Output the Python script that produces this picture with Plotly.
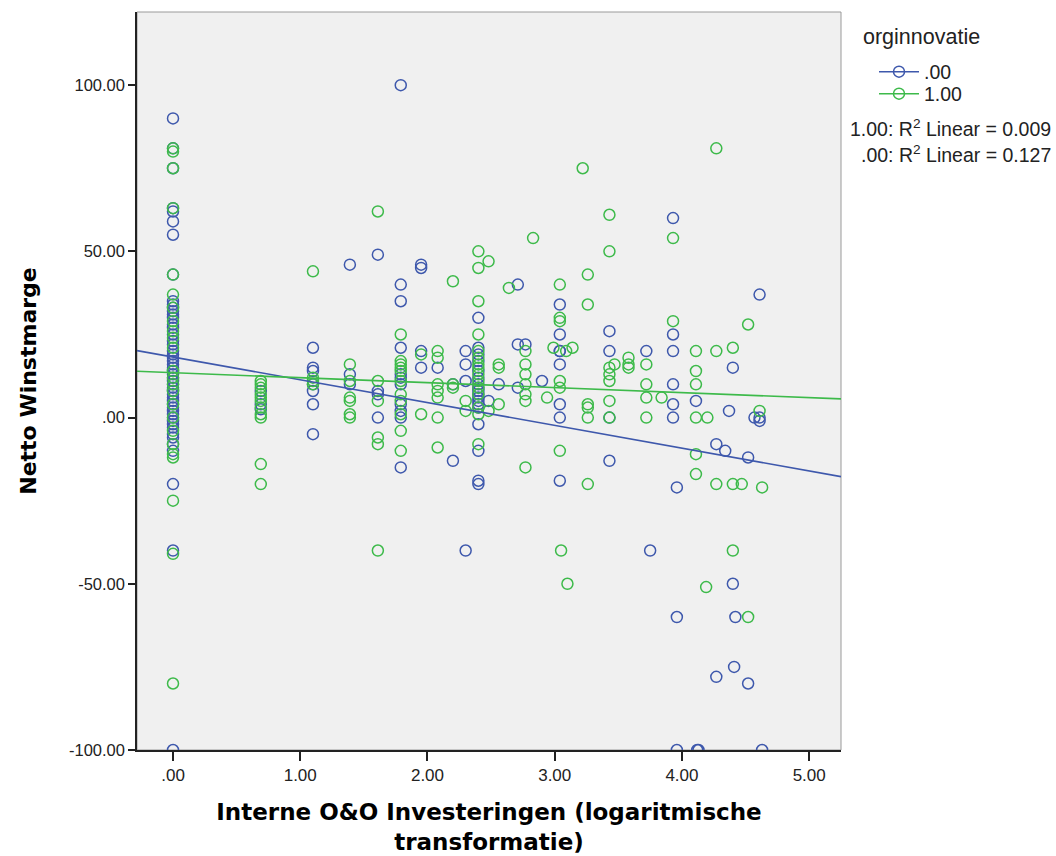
import plotly.graph_objects as go

# ---------------- data ----------------
# group ".00" (blue): (x = log investments, y = net profit margin)
blue_x = ([0.0] * 50 + [0.69] * 3 + [1.10] * 7 + [1.39] * 3 + [1.61] * 4 + [1.79] * 11 + [1.95] * 4 +
          [2.08] + [2.20] * 2 + [2.30] * 4 + [2.40] * 18 + [2.48] + [2.56] + [2.71] * 3 + [2.77] + [2.90] +
          [3.04] * 8 + [3.43] * 4 + [3.72] + [3.75] + [3.93] * 6 + [3.96] * 3 + [4.11] + [4.12] + [4.13] +
          [4.27] * 2 + [4.34] + [4.37] + [4.40] * 2 + [4.41] + [4.42] + [4.52] * 2 + [4.57] + [4.61] * 3 + [4.63])
blue_y = ([90, 81, 75, 63, 62, 59, 55, 43, 35, 34, 33, 32, 31, 30, 28, 27, 25, 23, 22, 20, 19, 18, 17, 16, 15,
           14, 13, 12, 11, 10, 9, 8, 7, 6, 5, 4, 3, 2, 1, 0, -1, -2, -3, -5, -6, -8, -10, -20, -40, -100] +
          [8, 4, 2.5] +
          [21, 15, 14, 10, 8, 4, -5] +
          [46, 13, 10] +
          [49, 8, 7, 0] +
          [100, 40, 35, 21, 13, 12, 10, 4, 2, 0, -15] +
          [46, 45, 20, 15] +
          [15] +
          [10, -13] +
          [20, 16, 11, -40] +
          [30, 21, 19, 17, 14, 12, 10, 9, 8, 7, 6, 5, 4, 3, -2, -10, -19, -20] +
          [5] + [10] + [40, 22, 9] + [22] + [11] +
          [34, 25, 20, 16, 4, 0, -19, 20] +
          [26, 20, 0, -13] +
          [20] + [-40] +
          [60, 25, 20, 10, 4, 0] + [-21, -60, -100] +
          [5] + [-100] + [-100] +
          [-8, -78] + [-10] + [2] + [15, -50] + [-75] + [-60] +
          [-12, -80] + [0] + [37, 0, -1] + [-100])

# group "1.00" (green)
green_x = ([0.0] * 24 + [0.69] * 11 + [1.10] * 4 + [1.39] * 6 + [1.61] * 6 + [1.79] * 11 + [1.95] * 2 +
           [2.08] * 7 + [2.20] * 3 + [2.30] * 2 + [2.40] * 15 + [2.48] * 2 + [2.56] * 3 + [2.64] +
           [2.77] * 7 + [2.83] + [2.94] + [2.99] + [3.04] * 6 + [3.05] + [3.10] + [3.09] + [3.14] + [3.22] +
           [3.26] * 6 + [3.43] * 7 + [3.47] + [3.58] * 3 + [3.72] * 4 + [3.84] + [3.93] * 2 +
           [4.11] * 6 + [4.19] + [4.20] + [4.27] * 3 + [4.40] * 3 + [4.47] + [4.52] * 2 + [4.61] + [4.63])
green_y = ([80, 81, 75, 63, 43, 37, 33, 29, 26, 24, 21, 14, 10, 8, 4, 0, -4, -8, -11, -12, -25, -41, -80, 12] +
           [11, 10, 9, 7, 6, 5, 3, 1, 0, -14, -20] +
           [44, 12, 11, 10] +
           [16, 11, 6, 5, 1, 0] +
           [62, 11, 5, -6, -8, -40] +
           [25, 17, 16, 15, 14, 11, 7, 5, 1, -4, -10] +
           [19, 1] +
           [20, 18, 10, 8, 6, 0, -9] +
           [41, 10, 9] +
           [5, 2] +
           [50, 45, 35, 25, 20, 18, 16, 15, 13, 11, 9, 7, 3, 1, -8] +
           [47, 2] + [16, 15, 4] + [39] +
           [20, 16, 13, 10, 7, 5, -15] + [54] + [6] + [21] +
           [40, 30, 29, 11, 9, -10] + [-40] + [-50] + [20] + [21] + [75] +
           [43, 34, 4, 3, 0, -20] +
           [61, 50, 15, 13, 11, 5, 0] + [16] +
           [18, 16, 15] +
           [16, 10, 6, 0] + [6] + [54, 29] +
           [20, 14, 10, 0, -11, -17] + [-51] + [0] + [81, 20, -20] +
           [21, -20, -40] + [-20] + [28, -60] + [2] + [-21])

# linear fit lines (intercept, slope) per group, as reported by the chart
fit_blue = (18.2, -6.85)
fit_green = (13.5, -1.50)
r2_labels = ["1.00: R<sup>2</sup> Linear = 0.009", ".00: R<sup>2</sup> Linear = 0.127"]
group_names = [".00", "1.00"]
legend_title = "orginnovatie"

x_range = [-0.283, 5.25]
y_range = [-100, 122]
x_ticks = [0, 1, 2, 3, 4, 5]
x_ticktext = [".00", "1.00", "2.00", "3.00", "4.00", "5.00"]
y_ticks = [-100, -50, 0, 50, 100]
y_ticktext = ["-100.00", "-50.00", ".00", "50.00", "100.00"]

# ---------------- style ----------------
BLUE = "#3E58AC"
GREEN = "#3DBA4A"
SANS = "Liberation Sans, Arial, sans-serif"
TICK_FONT = dict(family=SANS, size=16.5, color="#222222")
LEG_FONT = dict(family=SANS, size=19.5, color="#222222")

fig = go.Figure()

marker_common = dict(symbol="circle-open", size=11, line=dict(width=1.5))

fig.add_trace(go.Scatter(x=blue_x, y=blue_y, mode="markers", showlegend=False,
                         marker=dict(color=BLUE, **marker_common)))
fig.add_trace(go.Scatter(x=green_x, y=green_y, mode="markers", showlegend=False,
                         marker=dict(color=GREEN, **marker_common)))

for (a, b), col in [(fit_blue, BLUE), (fit_green, GREEN)]:
    fig.add_trace(go.Scatter(x=x_range, y=[a + b * x for x in x_range], mode="lines",
                             showlegend=False, line=dict(color=col, width=1.6),
                             hoverinfo="skip"))

L, R, T, B = 137, 841, 12, 750
W, H = 1056, 856
pw, ph = R - L, B - T


def px_x(p):
    return (p - L) / pw


def px_y(p):
    return (B - p) / ph


# legend entries (symbol with line through it), one legend box per entry
legend_ids = ["legend", "legend2"]
legend_rows = [72, 94]
for name, col, lid in zip(group_names, [BLUE, GREEN], legend_ids):
    fig.add_trace(go.Scatter(x=[None], y=[None], mode="lines+markers", name=name, legend=lid,
                             line=dict(color=col, width=1.6),
                             marker=dict(color=col, **marker_common)))

legend_common = dict(font=LEG_FONT, xanchor="left", yanchor="middle",
                     bgcolor="rgba(0,0,0,0)", itemwidth=40, borderwidth=0)

fig.update_layout(
    width=W, height=H,
    margin=dict(l=L, r=W - R, t=T, b=H - B, pad=0, autoexpand=False),
    paper_bgcolor="white",
    plot_bgcolor="#F0F0F0",
    showlegend=True,
    legend=dict(x=px_x(874), y=px_y(legend_rows[0]), **legend_common),
    legend2=dict(x=px_x(874), y=px_y(legend_rows[1]), **legend_common),
    xaxis=dict(
        range=x_range, tickvals=x_ticks, ticktext=x_ticktext, showgrid=False, zeroline=False,
        showline=True, linecolor="#222222", linewidth=1.5, ticks="outside", ticklen=9,
        tickwidth=1.5, tickcolor="#222222", tickfont=dict(family=SANS, size=17, color="#222222"),
        automargin=False,
        title=dict(text="<b>Interne O&O Investeringen (logaritmische<br>transformatie)</b>",
                   font=dict(family="DejaVu Sans, Verdana, sans-serif", size=23, color="black"),
                   standoff=20),
    ),
    yaxis=dict(
        range=y_range, tickvals=y_ticks, ticktext=y_ticktext, showgrid=False, zeroline=False,
        showline=True, linecolor="#222222", linewidth=1.5, ticks="outside", ticklen=7,
        tickwidth=1.5, tickcolor="#222222", tickfont=TICK_FONT, automargin=False,
        title=dict(text="<b>Netto Winstmarge</b>",
                   font=dict(family="DejaVu Sans, Verdana, sans-serif", size=22, color="black"),
                   standoff=26),
    ),
    shapes=[dict(type="rect", xref="paper", yref="paper", x0=0, x1=1, y0=0, y1=1,
                 line=dict(color="#9A9A9A", width=1), fillcolor="rgba(0,0,0,0)", layer="below")],
)

fig.add_annotation(text=legend_title, xref="paper", yref="paper", x=px_x(861), y=px_y(37),
                   xanchor="left", yanchor="middle", showarrow=False,
                   font=dict(family=SANS, size=21.5, color="#222222"))

for i, txt in enumerate(r2_labels):
    fig.add_annotation(text=txt, xref="paper", yref="paper", x=px_x(1053), y=px_y(128 + 26 * i),
                       xanchor="right", yanchor="middle", showarrow=False, font=LEG_FONT)

fig.write_html("out.html")
